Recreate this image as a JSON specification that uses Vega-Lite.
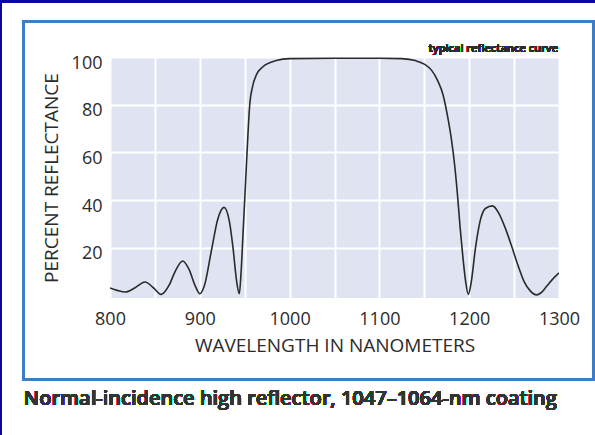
{
  "$schema": "https://vega.github.io/schema/vega-lite/v6.json",
  "width": 449,
  "height": 241,
  "autosize": {"type": "none"},
  "padding": {"left": 110, "top": 57, "right": 36, "bottom": 137},
  "background": "white",
  "config": {
    "view": {"fill": "#e0e4f2", "stroke": null},
    "font": "Open Sans",
    "axis": {
      "domain": false,
      "ticks": false,
      "tickSize": 0,
      "gridColor": "white",
      "gridWidth": 2,
      "gridOpacity": 1,
      "labelFont": "Open Sans",
      "labelFontSize": 18,
      "labelColor": "#2b2b2b",
      "titleFont": "Open Sans",
      "titleFontSize": 19,
      "titleFontWeight": "normal",
      "titleColor": "#2b2b2b",
      "format": "d"
    }
  },
  "data": {
    "values": [
      {"wavelength": 800, "reflectance": 3.2},
      {"wavelength": 808, "reflectance": 2.2},
      {"wavelength": 817, "reflectance": 1.5},
      {"wavelength": 828, "reflectance": 3.3},
      {"wavelength": 839, "reflectance": 5.7},
      {"wavelength": 848, "reflectance": 3.4},
      {"wavelength": 857, "reflectance": 0.5},
      {"wavelength": 866, "reflectance": 4.5},
      {"wavelength": 873, "reflectance": 10.5},
      {"wavelength": 881, "reflectance": 14.5},
      {"wavelength": 888, "reflectance": 11},
      {"wavelength": 895, "reflectance": 4},
      {"wavelength": 900, "reflectance": 0.8},
      {"wavelength": 905, "reflectance": 4},
      {"wavelength": 913, "reflectance": 19},
      {"wavelength": 920, "reflectance": 32},
      {"wavelength": 927, "reflectance": 37},
      {"wavelength": 933, "reflectance": 31},
      {"wavelength": 937, "reflectance": 20},
      {"wavelength": 941, "reflectance": 6},
      {"wavelength": 944, "reflectance": 0.8},
      {"wavelength": 946, "reflectance": 10},
      {"wavelength": 948, "reflectance": 25},
      {"wavelength": 950, "reflectance": 40},
      {"wavelength": 952.6, "reflectance": 60},
      {"wavelength": 955.6, "reflectance": 80},
      {"wavelength": 959, "reflectance": 88},
      {"wavelength": 963, "reflectance": 92.5},
      {"wavelength": 970, "reflectance": 95.8},
      {"wavelength": 985, "reflectance": 98.5},
      {"wavelength": 1000, "reflectance": 99.3},
      {"wavelength": 1050, "reflectance": 99.5},
      {"wavelength": 1100, "reflectance": 99.5},
      {"wavelength": 1125, "reflectance": 99.3},
      {"wavelength": 1140, "reflectance": 98.5},
      {"wavelength": 1150, "reflectance": 97},
      {"wavelength": 1158, "reflectance": 94.5},
      {"wavelength": 1165, "reflectance": 90},
      {"wavelength": 1171, "reflectance": 84},
      {"wavelength": 1176, "reflectance": 75},
      {"wavelength": 1180, "reflectance": 66},
      {"wavelength": 1184, "reflectance": 54},
      {"wavelength": 1187, "reflectance": 42},
      {"wavelength": 1190, "reflectance": 28},
      {"wavelength": 1193, "reflectance": 16},
      {"wavelength": 1196, "reflectance": 6},
      {"wavelength": 1199, "reflectance": 0.5},
      {"wavelength": 1202, "reflectance": 5},
      {"wavelength": 1207, "reflectance": 20},
      {"wavelength": 1212, "reflectance": 31},
      {"wavelength": 1218, "reflectance": 36.5},
      {"wavelength": 1226, "reflectance": 37.6},
      {"wavelength": 1233, "reflectance": 34.5},
      {"wavelength": 1240, "reflectance": 28.5},
      {"wavelength": 1247, "reflectance": 21},
      {"wavelength": 1254, "reflectance": 13},
      {"wavelength": 1261, "reflectance": 6},
      {"wavelength": 1268, "reflectance": 2},
      {"wavelength": 1275, "reflectance": 0.3},
      {"wavelength": 1280, "reflectance": 1.2},
      {"wavelength": 1286, "reflectance": 3.8},
      {"wavelength": 1292, "reflectance": 6.5},
      {"wavelength": 1300, "reflectance": 9.5}
    ]
  },
  "layer": [
    {
      "mark": {"type": "line", "color": "#2a2a2a", "strokeWidth": 1.6, "interpolate": "monotone", "clip": true},
      "encoding": {
        "x": {
          "field": "wavelength", "type": "quantitative",
          "title": "WAVELENGTH IN NANOMETERS",
          "scale": {"domain": [800, 1300], "nice": false, "zero": false},
          "axis": {
            "values": [800, 850, 900, 950, 1000, 1050, 1100, 1150, 1200, 1250, 1300],
            "labelExpr": "datum.value % 100 == 0 ? datum.label : ''",
            "labelPadding": 12,
            "titlePadding": 8,
            "labelFlush": false
          }
        },
        "y": {
          "field": "reflectance", "type": "quantitative",
          "title": "PERCENT REFLECTANCE",
          "scale": {"domain": [-1, 100], "nice": false, "zero": false},
          "axis": {
            "values": [20, 40, 60, 80, 100],
            "labelPadding": 8,
            "labelOffset": 6,
            "titlePadding": 10,
            "labelFlush": false
          }
        }
      }
    },
    {
      "mark": {"type": "text", "align": "right", "baseline": "alphabetic", "font": "Open Sans", "fontSize": 11, "fontWeight": 600, "color": "#2b2b2b"},
      "encoding": {
        "x": {"datum": 1299, "type": "quantitative", "title": "WAVELENGTH IN NANOMETERS"},
        "y": {"datum": 102, "type": "quantitative", "title": "PERCENT REFLECTANCE"},
        "text": {"value": "typical reflectance curve"}
      }
    },
    {
      "mark": {"type": "text", "align": "left", "baseline": "alphabetic", "font": "Open Sans", "fontSize": 20, "fontWeight": 600, "color": "#333333"},
      "encoding": {
        "x": {"datum": 703.7, "type": "quantitative", "title": "WAVELENGTH IN NANOMETERS"},
        "y": {"datum": -45.85, "type": "quantitative", "title": "PERCENT REFLECTANCE"},
        "text": {"value": "Normal-incidence high reflector, 1047–1064-nm coating"}
      }
    },
    {
      "mark": {"type": "rect", "fill": null, "fillOpacity": 0, "stroke": "#3c7fc6", "strokeWidth": 1.5},
      "encoding": {
        "x": {"datum": 703.7, "type": "quantitative", "title": "WAVELENGTH IN NANOMETERS"},
        "x2": {"datum": 1338.4},
        "y": {"datum": 114.88, "type": "quantitative", "title": "PERCENT REFLECTANCE"},
        "y2": {"datum": -35.16}
      }
    },
    {
      "mark": {"type": "rect", "color": "#08089a"},
      "encoding": {
        "x": {"datum": 672, "type": "quantitative", "title": "WAVELENGTH IN NANOMETERS"},
        "x2": {"datum": 1350},
        "y": {"datum": 122.63, "type": "quantitative", "title": "PERCENT REFLECTANCE"},
        "y2": {"datum": 130}
      }
    },
    {
      "mark": {"type": "rect", "color": "#08089a"},
      "encoding": {
        "x": {"datum": 672, "type": "quantitative", "title": "WAVELENGTH IN NANOMETERS"},
        "x2": {"datum": 679.7},
        "y": {"datum": -70, "type": "quantitative", "title": "PERCENT REFLECTANCE"},
        "y2": {"datum": 130}
      }
    }
  ]
}
